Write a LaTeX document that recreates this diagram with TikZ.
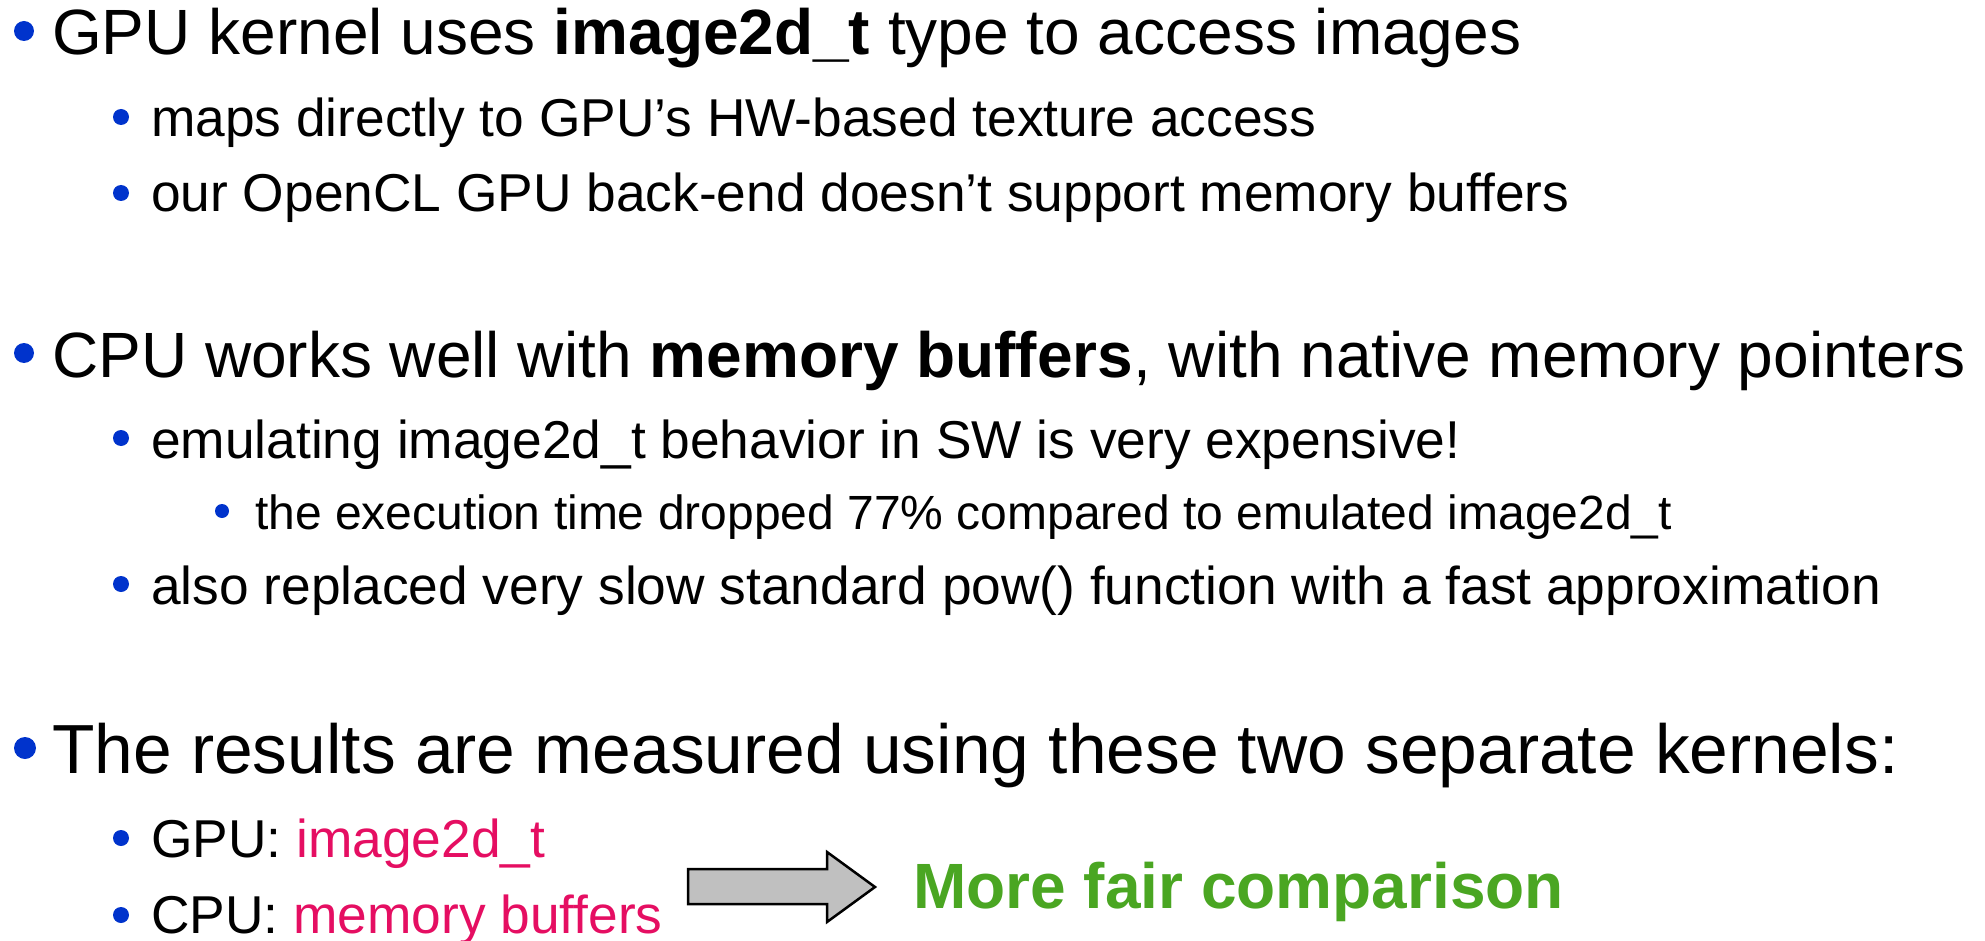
\documentclass[tikz,border=0pt]{standalone}
\usepackage{fontspec}
\setmainfont{Liberation Sans}
\definecolor{bulletblue}{RGB}{0,51,204}
\definecolor{hotpink}{RGB}{229,14,98}
\definecolor{fairgreen}{RGB}{74,166,34}
\definecolor{arrowgray}{RGB}{192,192,192}
\tikzset{
  lvlone/.style={anchor=base west, inner sep=0pt, font=\fontsize{64}{76}\selectfont},
  lvltwo/.style={anchor=base west, inner sep=0pt, font=\fontsize{53.3}{64}\selectfont},
  lvlthree/.style={anchor=base west, inner sep=0pt, font=\fontsize{48}{58}\selectfont},
  dotone/.style={circle, fill=bulletblue, inner sep=0pt, minimum size=20pt},
  dottwo/.style={circle, fill=bulletblue, inner sep=0pt, minimum size=16pt},
  dotthree/.style={circle, fill=bulletblue, inner sep=0pt, minimum size=14pt},
}
\begin{document}
\begin{tikzpicture}[x=1pt, y=-1pt]
\useasboundingbox (0,0) rectangle (1985,941);

% first point: GPU side
\node[dotone] (d1) at (24,31) {};
\node[lvlone] (t1) at (52,55) {GPU kernel uses \textbf{image2d\_t} type to access images};
\node[dottwo] (d2) at (121,117) {};
\node[lvltwo] (t2) at (151,137) {maps directly to GPU’s HW-based texture access};
\node[dottwo] (d3) at (121,193) {};
\node[lvltwo] (t3) at (151,212) {our OpenCL GPU back-end doesn’t support memory buffers};

% second point: CPU side
\node[dotone] (d4) at (24,353) {};
\node[lvlone] (t4) at (52,377) {CPU works well with \textbf{memory buffers}, with native memory pointers};
\node[dottwo] (d5) at (121,438) {};
\node[lvltwo] (t5) at (151,458) {emulating image2d\_t behavior in SW is very expensive!};
\node[dotthree] (d6) at (222,511) {};
\node[lvlthree] (t6) at (255,529) {the execution time dropped 77\% compared to emulated image2d\_t};
\node[dottwo] (d7) at (121,584) {};
\node[lvltwo] (t7) at (151,604) {also replaced very slow standard pow() function with a fast approximation};

% third point: measurement setup (set a little larger)
\node[dotone, minimum size=22pt] (d8) at (25,748) {};
\node[lvlone, font=\fontsize{69.5}{82}\selectfont] (t8) at (52,773) {The results are measured using these two separate kernels:};
\node[dottwo] (d9) at (121,838) {};
\node[lvltwo] (t9) at (151,857) {GPU: \textcolor{hotpink}{image2d\_t}};
\node[dottwo] (d10) at (121,915) {};
\node[lvltwo] (t10) at (151,933) {CPU: \textcolor{hotpink}{memory buffers}};

% block arrow and conclusion
\draw[line width=2.5pt, line join=miter, fill=arrowgray]
  (688,869) -- (827,869) -- (827,852) -- (875,887) -- (827,922) -- (827,904) -- (688,904) -- cycle;
\node[lvlone, font=\fontsize{64}{76}\selectfont\bfseries, text=fairgreen] (concl) at (913,908) {More fair comparison};
\end{tikzpicture}
\end{document}
